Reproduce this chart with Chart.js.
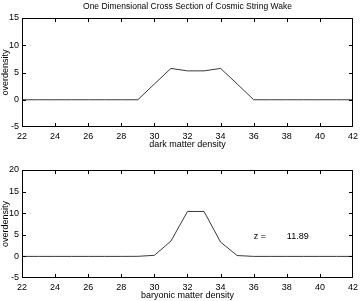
<!DOCTYPE html>
<html><head><meta charset="utf-8">
<script src="https://cdn.jsdelivr.net/npm/chart.js@4/dist/chart.umd.min.js"></script>
<style>
html,body{margin:0;padding:0;background:#fff;}
#w{position:relative;width:362px;height:301px;overflow:hidden;}
#c1{position:absolute;left:0;top:0;}
#c2{position:absolute;left:0;top:150px;}
.fr{position:absolute;box-sizing:border-box;border:1px solid #000;pointer-events:none;}
.tk{position:absolute;background:#000;pointer-events:none;}
</style></head><body>
<div id="w">
<canvas id="c1" width="362" height="150"></canvas>
<canvas id="c2" width="362" height="151"></canvas>
</div>
<script>
const xValues = [22,23,24,25,26,27,28,29,30,31,32,33,34,35,36,37,38,39,40,41,42];
const darkMatter = [0,0,0,0,0,0,0,0,2.9,5.75,5.3,5.3,5.75,2.9,0,0,0,0,0,0,0];
const baryonic = [0,0,0,0,0,0,0,0.02,0.25,3.55,10.4,10.4,3.3,0.2,0,0,0,0,0,0,0];
const xTicks = [22,24,26,28,30,32,34,36,38,40,42];
const yTicksTop = [-5,0,5,10,15];
const yTicksBottom = [-5,0,5,10,15,20];
const titleText = 'One Dimensional Cross Section of Cosmic String Wake';
const zLabel = 'z =';
const zValue = '11.89';

const FONT = "'Liberation Sans', Arial, Helvetica, sans-serif";

function textPlugin(annotation) {
  return {
    id: 'zText',
    afterDatasetsDraw(chart) {
      if (!annotation) return;
      const {ctx, scales} = chart;
      ctx.save();
      ctx.fillStyle = '#000';
      ctx.font = '9px ' + FONT;
      ctx.textBaseline = 'middle';
      ctx.textAlign = 'left';
      for (const n of annotation) {
        ctx.fillText(n.text, scales.x.getPixelForValue(n.x), scales.y.getPixelForValue(n.y));
      }
      ctx.restore();
    }
  };
}

function addFrame(chart, offsetTop) {
  const w = document.getElementById('w');
  const a = chart.chartArea, sx = chart.scales.x, sy = chart.scales.y;
  const l = Math.round(a.left), r = Math.round(a.right), t = Math.round(a.top), b = Math.round(a.bottom);
  const f = document.createElement('div');
  f.className = 'fr';
  f.style.left = l + 'px'; f.style.top = (t + offsetTop) + 'px';
  f.style.width = (r - l) + 'px'; f.style.height = (b - t) + 'px';
  w.appendChild(f);
  const tick = (x, y, wd, ht) => {
    const d = document.createElement('div');
    d.className = 'tk';
    d.style.left = x + 'px'; d.style.top = (y + offsetTop) + 'px';
    d.style.width = wd + 'px'; d.style.height = ht + 'px';
    w.appendChild(d);
  };
  for (const v of xTicks) {
    const px = Math.min(Math.round(sx.getPixelForValue(v)), r - 1);
    tick(px, b - 4, 1, 3);
    tick(px, t + 1, 1, 3);
  }
  for (const tk of sy.ticks) {
    const py = Math.min(Math.round(sy.getPixelForValue(tk.value)), b - 1);
    tick(l + 1, py, 3, 1);
    tick(r - 4, py, 3, 1);
  }
}

function makeChart(id, data, yTicks, yMin, yMax, xTitle, topPad, withTitle, annotation) {
  return new Chart(document.getElementById(id), {
    type: 'line',
    data: {
      datasets: [{
        data: xValues.map((xv, i) => ({x: xv, y: data[i]})),
        borderColor: '#3a3a3a',
        borderWidth: 1,
        pointRadius: 0,
        tension: 0,
        fill: false,
        clip: 0
      }]
    },
    options: {
      responsive: false,
      animation: false,
      layout: {padding: {left: 0, right: 8, top: topPad, bottom: 0}},
      plugins: {
        legend: {display: false},
        tooltip: {enabled: false},
        title: {
          display: withTitle,
          text: titleText,
          fullSize: false,
          color: '#000',
          font: {family: FONT, size: 8.5, weight: 'normal', lineHeight: 1.2},
          padding: {top: 2, bottom: 5.8}
        }
      },
      scales: {
        x: {
          type: 'linear', min: 22, max: 42,
          afterBuildTicks: s => { s.ticks = xTicks.map(v => ({value: v})); },
          afterFit: s => { s.height = 23; },
          grid: {display: false, drawTicks: false},
          border: {display: false},
          ticks: {color: '#000', font: {family: FONT, size: 9}, padding: 4, maxRotation: 0, autoSkip: false},
          title: {display: true, text: xTitle, color: '#000', font: {family: FONT, size: 9}, padding: {top: 0, bottom: 0}}
        },
        y: {
          type: 'linear', min: yMin, max: yMax,
          afterBuildTicks: s => { s.ticks = yTicks.map(v => ({value: v})); },
          afterFit: s => { s.width = 22; },
          grid: {display: false, drawTicks: false},
          border: {display: false},
          ticks: {color: '#000', font: {family: FONT, size: 9}, padding: 3},
          title: {display: true, text: 'overdensity', color: '#000', font: {family: FONT, size: 9}, padding: {top: 0, bottom: 0}}
        }
      }
    },
    plugins: [textPlugin(annotation)]
  });
}

const chart1 = makeChart('c1', darkMatter, yTicksTop, -5, 15, 'dark matter density', 0, true, null);
const chart2 = makeChart('c2', baryonic, yTicksBottom, -5, 20, 'baryonic matter density', 20, false,
  [{text: zLabel, x: 36.0, y: 4.7}, {text: zValue, x: 38.0, y: 4.7}]);
addFrame(chart1, 0);
addFrame(chart2, 150);
</script>
</body></html>
